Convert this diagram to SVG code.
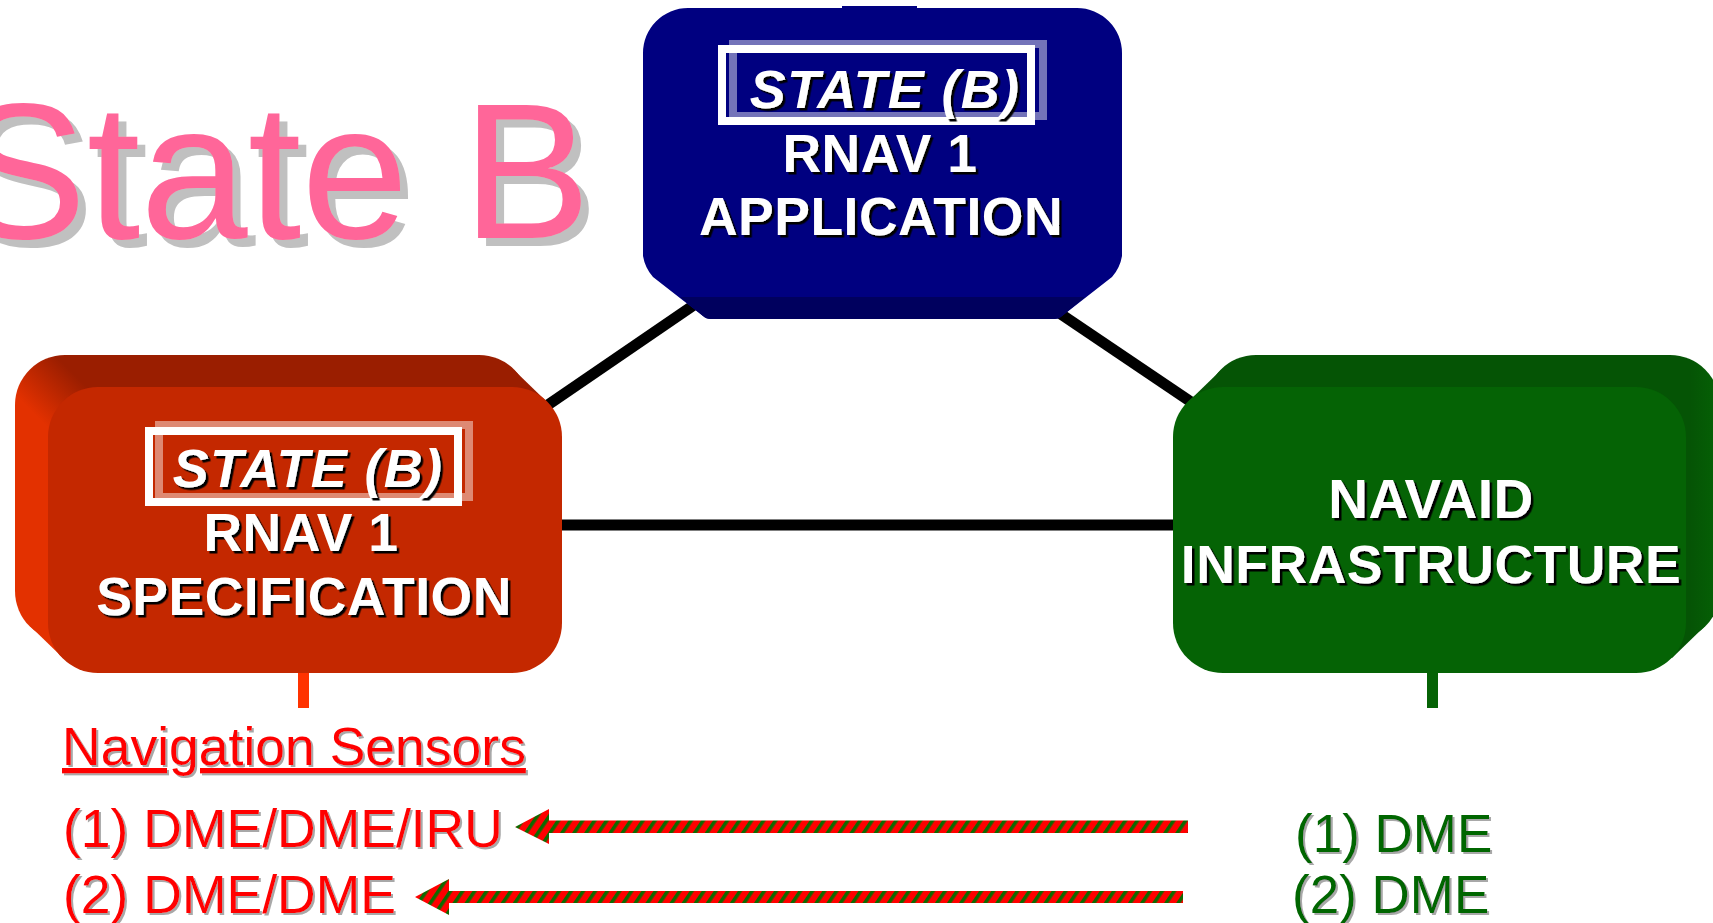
<svg xmlns="http://www.w3.org/2000/svg" width="1713" height="923" viewBox="0 0 1713 923">
  <defs>
    <style>
      .label { font-family: "Liberation Sans", Arial, sans-serif; font-weight: bold; fill: #ffffff; text-anchor: middle; filter: url(#dark-shadow); font-size: 53.5px; letter-spacing: 0.5px; }
      .badge { font-style: italic; font-size: 54px; letter-spacing: 1.3px; }
      .plain { font-family: "Liberation Sans", Arial, sans-serif; font-size: 53.5px; filter: url(#grey-shadow); }
      .red-txt { fill: #ff0000; }
      .green-txt { fill: #006600; font-size: 53px; }
      .link { stroke: #000000; stroke-width: 11; fill: none; }
      .frame-white { fill: none; stroke: #ffffff; stroke-width: 8; }
      .frame-glass { fill: none; stroke: #ffffff; stroke-opacity: 0.45; stroke-width: 8; }
      .feed { fill: url(#stripes); }
    </style>
    <filter id="dark-shadow" x="-5%" y="-20%" width="110%" height="140%">
      <feDropShadow dx="2.5" dy="2.5" stdDeviation="0" flood-color="#000000" flood-opacity="1"/>
    </filter>
    <filter id="grey-shadow" x="-5%" y="-20%" width="110%" height="140%">
      <feDropShadow dx="2" dy="2" stdDeviation="0.6" flood-color="#a8a8a8" flood-opacity="1"/>
    </filter>
    <filter id="title-shadow" x="-5%" y="-10%" width="115%" height="130%">
      <feDropShadow dx="8" dy="8" stdDeviation="0" flood-color="#c0c0c0" flood-opacity="1"/>
    </filter>
    <!-- side faces of the extruded boxes -->
    <linearGradient id="red-side" gradientUnits="userSpaceOnUse" x1="0" y1="380" x2="40" y2="340">
      <stop offset="0" stop-color="#e33100"/>
      <stop offset="1" stop-color="#9a1e00"/>
    </linearGradient>
    <linearGradient id="green-side" gradientUnits="userSpaceOnUse" x1="1690" y1="350" x2="1760" y2="350">
      <stop offset="0" stop-color="#055405"/>
      <stop offset="1" stop-color="#067306"/>
    </linearGradient>
    <!-- red/green striped fill for the feed arrows -->
    <pattern id="stripes" patternUnits="userSpaceOnUse" width="10" height="10" patternTransform="rotate(34)">
      <rect x="0" y="0" width="10" height="10" fill="#ff0000"/>
      <rect x="0" y="0" width="3.6" height="10" fill="#0d6a00"/>
    </pattern>
  </defs>

  <!-- page title -->
  <text x="-42" y="238" font-family="'Liberation Sans', Arial, sans-serif" font-size="193" fill="#ff6699" filter="url(#title-shadow)">State B</text>

  <!-- connectors between the three boxes -->
  <g id="connectors">
    <line class="link" x1="520" y1="424" x2="710" y2="294"/>
    <line class="link" x1="1040" y1="300" x2="1240" y2="435"/>
    <line class="link" x1="540" y1="525" x2="1200" y2="525"/>
    <rect x="298" y="673" width="11" height="35" fill="#ff3300"/>
    <rect x="1427" y="673" width="11" height="35" fill="#066306"/>
    <path class="feed" d="M515,827 L549,809 L549,820.5 L1188,820.5 L1188,833 L549,833 L549,844 Z"/>
    <path class="feed" d="M415,897 L449,879 L449,891 L1183,891 L1183,903 L449,903 L449,915 Z"/>
  </g>

  <!-- RNAV 1 application -->
  <g id="node-application">
    <rect x="842" y="6" width="75" height="3" fill="#000080"/>
    <path d="M688,8 H1077 A45,45 0 0 1 1122,53 V256 Q1120,268 1112,277 L1062,316 Q1059,319 1054,319 H711 Q706,319 703,316 L653,277 Q645,268 643,256 V53 A45,45 0 0 1 688,8 Z" fill="#000080"/>
    <path d="M680,297 H1085 L1062,316 Q1059,319 1054,319 H711 Q706,319 703,316 Z" fill="#00005e"/>
    <rect class="frame-glass" x="733" y="44" width="310" height="72"/>
    <rect class="frame-white" x="722" y="49" width="309" height="72"/>
    <text class="label badge" x="885" y="108">STATE (B)</text>
    <text class="label" x="880" y="172">RNAV 1</text>
    <text class="label" x="881" y="235">APPLICATION</text>
  </g>

  <!-- RNAV 1 specification -->
  <g id="node-specification">
    <rect x="15" y="355" width="514" height="286" rx="50" fill="url(#red-side)"/>
    <polygon points="514,370 547,402 63,658 30,626" fill="url(#red-side)"/>
    <rect x="48" y="387" width="514" height="286" rx="50" fill="#c42800"/>
    <rect class="frame-glass" x="159" y="425" width="310" height="72"/>
    <rect class="frame-white" x="149" y="431" width="309" height="71"/>
    <text class="label badge" x="308" y="487">STATE (B)</text>
    <text class="label" x="301" y="551">RNAV 1</text>
    <text class="label" x="304" y="615">SPECIFICATION</text>
  </g>

  <!-- NAVAID infrastructure -->
  <g id="node-infrastructure">
    <rect x="1206" y="355" width="514" height="286" rx="50" fill="url(#green-side)"/>
    <polygon points="1221,370 1188,402 1672,658 1705,626" fill="url(#green-side)"/>
    <rect x="1173" y="387" width="513" height="286" rx="50" fill="#056305"/>
    <text class="label" x="1431" y="518" style="font-size:55px">NAVAID</text>
    <text class="label" x="1431" y="583">INFRASTRUCTURE</text>
  </g>

  <!-- sensor list -->
  <g id="node-sensors">
    <text class="plain red-txt" x="62" y="765" text-decoration="underline">Navigation Sensors</text>
    <text class="plain red-txt" x="63" y="847">(1) DME/DME/IRU</text>
    <text class="plain red-txt" x="63" y="913">(2) DME/DME</text>
  </g>

  <!-- navaid list -->
  <g id="node-navaids">
    <text class="plain green-txt" x="1295" y="852">(1) DME</text>
    <text class="plain green-txt" x="1292" y="913">(2) DME</text>
  </g>
</svg>
